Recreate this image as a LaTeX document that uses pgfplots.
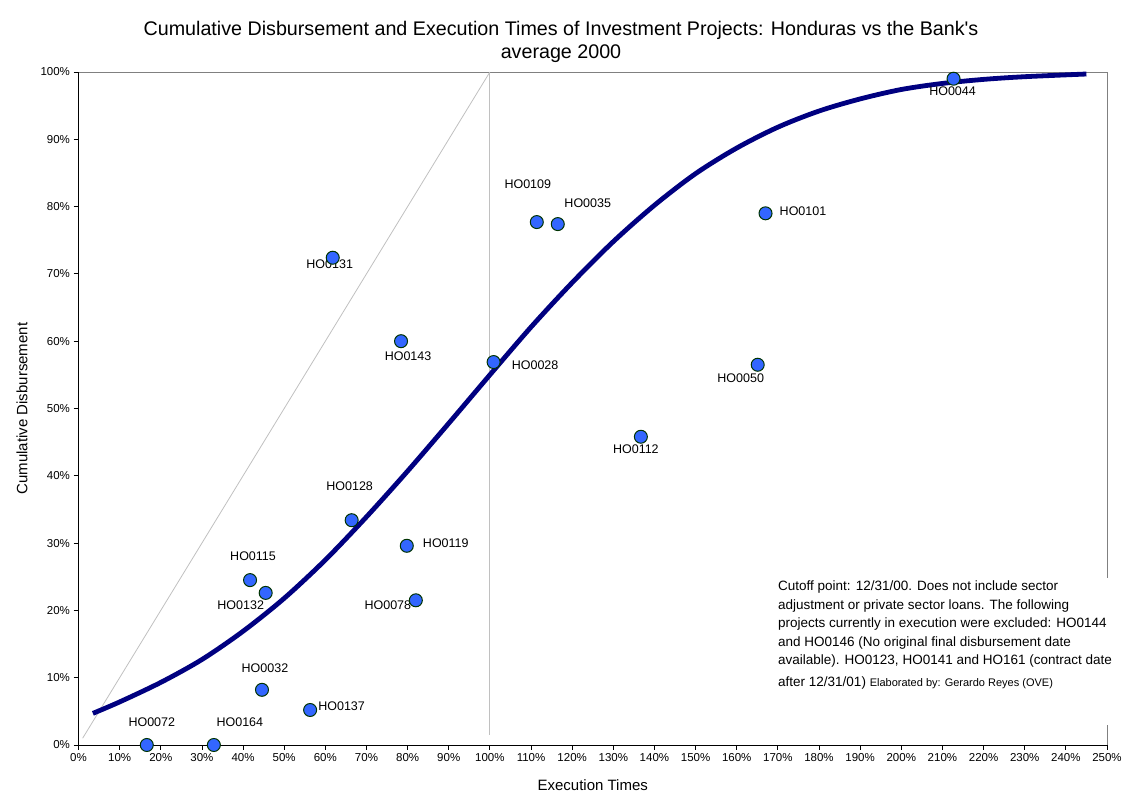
\documentclass[border=0pt]{standalone}
\usepackage{fontspec}
\setmainfont{Liberation Sans}
\usepackage{pgfplots}
\pgfplotsset{compat=1.18}
\definecolor{curvenavy}{HTML}{000080}
\definecolor{dotblue}{HTML}{3366FF}
\definecolor{dotedge}{HTML}{003300}
\definecolor{refgray}{HTML}{C0C0C0}
\definecolor{boxgray}{HTML}{808080}
\newcommand{\lbl}{\fontsize{12.5}{15}\selectfont}
\begin{document}
\begin{tikzpicture}
\useasboundingbox (0,0) rectangle (1122pt,792pt);
\begin{axis}[
  at={(78.5pt,47pt)}, anchor=south west,
  width=1028.5pt, height=673pt, scale only axis,
  xmin=0, xmax=250, ymin=0, ymax=100,
  axis x line*=bottom, axis y line*=left,
  axis line style={-, black, line width=0.8pt},
  xtick={0,10,...,250}, ytick={0,10,...,100},
  xticklabel={\pgfmathprintnumber{\tick}\%},
  yticklabel={\pgfmathprintnumber{\tick}\%},
  tick align=outside, major tick length=5pt,
  tick style={black, line width=0.8pt},
  ticklabel style={font=\fontsize{11.5}{13}\selectfont},
  /pgf/number format/assume math mode=true,
  xlabel={Execution Times}, ylabel={Cumulative Disbursement},
  label style={font=\fontsize{15}{18}\selectfont},
  xlabel style={at={(axis description cs:0.5,-0.0594)}, anchor=center},
  ylabel style={at={(axis description cs:-0.0549,0.5)}, anchor=center},
  clip=false,
]
\draw[boxgray, line width=0.8pt] (rel axis cs:0,1) -- (rel axis cs:1,1) -- (rel axis cs:1,0);

% reference lines
\addplot[refgray, line width=0.8pt] coordinates {(1,1) (100,100)};
\addplot[refgray, line width=0.8pt] coordinates {(100,1.5) (100,100)};

% bank average curve
\addplot[curvenavy, line width=4.8pt, smooth] coordinates {
(3.5,4.7) (10,6.4) (20,9.3) (30,12.7) (40,16.9) (50,21.8) (60,27.5)
(70,33.9) (80,40.7) (90,47.8) (100,55.0) (110,62.1) (120,68.7)
(130,74.8) (140,80.2) (150,84.9) (160,88.7) (170,91.8) (180,94.2)
(190,96.0) (200,97.4) (210,98.3) (220,98.9) (230,99.3) (245,99.7)};

% Honduras projects
\addplot[only marks, mark=*, mark size=6.5pt,
  mark options={fill=dotblue, draw=dotedge, line width=1pt}] coordinates {
(16.6,0) (32.9,0) (44.6,8.2) (56.3,5.2) (41.7,24.5) (45.5,22.6)
(66.4,33.4) (79.8,29.6) (82.0,21.5) (61.8,72.4) (78.4,60.0) (100.9,56.9)
(111.4,77.7) (116.5,77.4) (167.0,79.0) (165.1,56.5) (136.7,45.8) (212.7,99.0)};

\node[font=\lbl, xshift=5pt, yshift=23pt] at (axis cs:16.6,0) {HO0072};
\node[font=\lbl, xshift=26pt, yshift=23pt] at (axis cs:32.9,0) {HO0164};
\node[font=\lbl, xshift=3pt, yshift=22pt] at (axis cs:44.6,8.2) {HO0032};
\node[font=\lbl, anchor=west, inner sep=0pt, xshift=8pt, yshift=4pt] at (axis cs:56.3,5.2) {HO0137};
\node[font=\lbl, xshift=3pt, yshift=24pt] at (axis cs:41.7,24.5) {HO0115};
\node[font=\lbl, xshift=-25pt, yshift=-12pt] at (axis cs:45.5,22.6) {HO0132};
\node[font=\lbl, xshift=-2pt, yshift=34pt] at (axis cs:66.4,33.4) {HO0128};
\node[font=\lbl, anchor=west, inner sep=0pt, xshift=16pt, yshift=3pt] at (axis cs:79.8,29.6) {HO0119};
\node[font=\lbl, xshift=-28pt, yshift=-5pt] at (axis cs:82.0,21.5) {HO0078};
\node[font=\lbl, xshift=-3pt, yshift=-6pt] at (axis cs:61.8,72.4) {HO0131};
\node[font=\lbl, xshift=7pt, yshift=-15pt] at (axis cs:78.4,60.0) {HO0143};
\node[font=\lbl, anchor=west, inner sep=0pt, xshift=18pt, yshift=-3pt] at (axis cs:100.9,56.9) {HO0028};
\node[font=\lbl, xshift=-9pt, yshift=38pt] at (axis cs:111.4,77.7) {HO0109};
\node[font=\lbl, xshift=30pt, yshift=21pt] at (axis cs:116.5,77.4) {HO0035};
\node[font=\lbl, anchor=west, inner sep=0pt, xshift=14pt, yshift=2pt] at (axis cs:167.0,79.0) {HO0101};
\node[font=\lbl, xshift=-17pt, yshift=-13pt] at (axis cs:165.1,56.5) {HO0050};
\node[font=\lbl, xshift=-5pt, yshift=-12pt] at (axis cs:136.7,45.8) {HO0112};
\node[font=\lbl, xshift=-1pt, yshift=-12pt] at (axis cs:212.7,99.0) {HO0044};
\end{axis}

% note box
\fill[white] (772pt,67pt) rectangle (1114pt,214pt);
\node[anchor=north west, inner sep=0pt, align=left, font=\fontsize{13.5}{18.5}\selectfont] at (778pt,211pt)
{Cutoff point: 12/31/00. Does not include sector\\
adjustment or private sector loans. The following\\
projects currently in execution were excluded: HO0144\\
and HO0146 (No original final disbursement date\\
available). HO0123, HO0141 and HO161 (contract date\\[3pt]
after 12/31/01) {\fontsize{11}{13}\selectfont Elaborated by: Gerardo Reyes (OVE)}};

% title
\node[align=center, font=\fontsize{19.7}{23}\selectfont] at (561pt,750.5pt)
{Cumulative Disbursement and Execution Times of Investment Projects: Honduras vs the Bank\textquotesingle s\\
average 2000};
\end{tikzpicture}
\end{document}
